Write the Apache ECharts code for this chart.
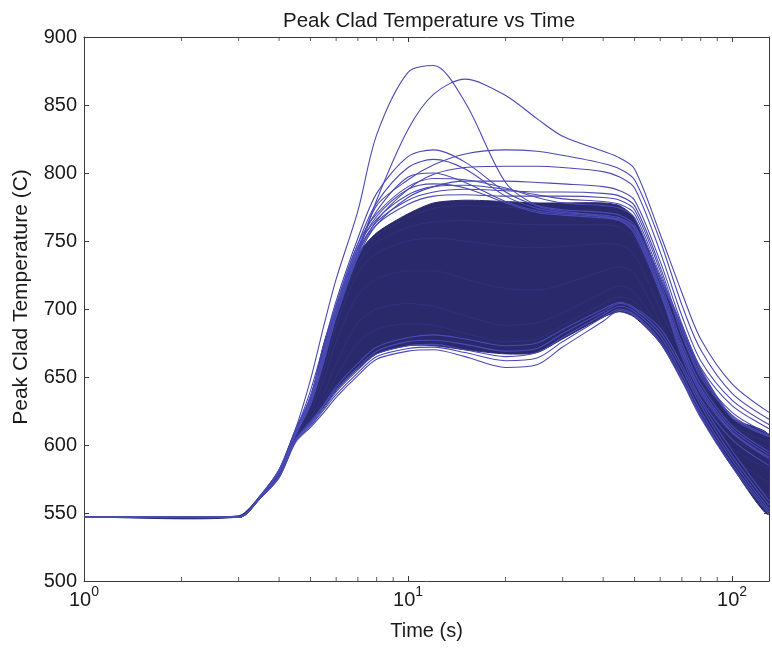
<!DOCTYPE html>
<html>
<head>
<meta charset="utf-8">
<script src="https://cdn.jsdelivr.net/npm/echarts@6/dist/echarts.min.js"></script>
<style>html,body{margin:0;padding:0;background:#fff}#c{width:772px;height:649px}</style>
</head>
<body>
<div id="c"></div>
<script>
// time grid (s)
const times = [1, 3, 3.5, 4, 4.5, 5, 5.5, 6, 7, 8, 10, 12, 15, 20, 25, 30, 40, 45, 50, 60, 70, 80, 100, 130];
// envelope of the dense bundle of runs
const coreUpper = [547,548,563,582,612,635,675,702,740,756,770,778,780,779,778,778,778,776,767,723,687,655,620,607];
const coreLower = [547,547,561,577,604,616,628,640,656,667,673,673,670,667,668,678,694,698,694,675,648,621,584,549];
// individual runs
const runA  = [547,547,563,582,612,648,688,722,772,828,874,879,852,793,776,772,768,765,755,712,665,634,604,585];
const runB  = [547,547,562,581,610,634,668,700,740,780,832,858,869,857,840,827,816,811,803,755,712,678,645,624];
const runC  = [547,547,562,580,609,632,665,698,742,776,795,806,814,817,816,813,807,803,795,750,703,670,638,619];
const runD  = [547,547,562,580,608,630,662,695,740,765,788,799,804,805,805,804,801,797,789,742,695,662,633,615];
const runE  = [547,547,562,580,608,630,662,694,738,762,782,790,794,794,793,792,790,787,780,735,689,657,629,612];
const runF1 = [547,547,562,580,610,640,674,706,752,785,812,817,808,786,776,773,771,769,762,720,675,645,614,595];
const runF2 = [547,547,562,580,609,636,670,703,748,778,804,810,803,783,774,771,769,767,760,717,672,642,612,593];
const runF3 = [547,547,562,580,609,635,668,701,745,772,797,800,793,779,772,770,768,766,759,715,670,640,610,591];
const runF4 = [547,547,562,580,608,634,666,700,744,768,788,792,789,778,771,769,767,765,757,713,668,638,609,590];
const runH1 = [547,547,562,580,608,633,665,699,742,764,780,786,788,787,786,786,785,783,776,731,684,652,624,608];
const runH2 = [547,547,562,580,608,633,665,698,741,762,777,783,784,783,783,783,782,780,773,728,681,650,622,606];
const runH3 = [547,547,562,580,608,634,667,700,745,766,784,790,791,788,784,781,779,777,770,725,688,656,621,607];
const runH4 = [547,547,562,580,609,636,670,703,748,770,790,796,795,789,782,778,776,774,767,722,686,654,620,606];
const runG1 = [547,547,561,576,602,613,624,635,651,663,669,670,665,657,659,672,691,699,695,675,647,620,584,549];
const runG2 = [547,547,561,576,603,614,626,637,653,665,671,672,668,662,664,676,694,700,696,677,649,622,586,551];
const runG3 = [547,547,561,577,603,615,627,639,655,667,673,674,670,665,668,679,696,702,698,680,652,625,589,553];
const runG4 = [547,547,561,577,604,616,629,641,657,669,676,677,674,669,671,682,698,704,700,683,656,629,592,556];
const runG5 = [547,547,561,577,604,617,630,643,660,672,679,681,678,673,675,685,700,705,701,686,659,632,596,559];
const edgeRuns = [runA, runB, runC, runD, runE, runF1, runF2, runF3, runF4, runH1, runH2, runH3, runH4, runG1, runG2, runG3, runG4, runG5];
// runs inside the dense bundle
const runI1 = [547,547,562,580,607,632,664,697,738,754,767,774,776,775,773,772,771,769,760,716,680,648,615,602];
const runI2 = [547,547,562,580,606,630,660,693,733,749,760,764,765,763,762,762,762,760,752,710,674,644,611,598];
const runI3 = [547,547,562,579,606,628,655,688,726,741,750,752,750,746,745,746,748,747,740,700,666,637,605,592];
const runI4 = [547,547,561,579,605,624,648,676,710,722,728,728,722,715,714,718,728,731,726,690,657,630,598,582];
const runI5 = [547,547,561,578,604,620,638,660,690,700,704,702,695,688,690,697,712,717,712,684,652,624,592,572];
const runI6 = [547,547,561,578,604,618,633,650,675,685,689,688,682,676,678,688,704,709,705,680,650,623,589,562];
const innerRuns = [runI1, runI2, runI3, runI4, runI5, runI6];
// axis ticks
const yTicks = [500, 550, 600, 650, 700, 750, 800, 850, 900];
const minorTimes = [2,3,4,5,6,7,8,9,20,30,40,50,60,70,80,90];

const FONT = "'Liberation Sans', Arial, Helvetica, sans-serif";
const TXT = '#1a1a1a';
const AX = '#3a3a3a';
const pairs = arr => times.map((t, i) => [t, arr[i]]);

const series = [];
series.push({
  type: 'custom', silent: true, z: 1, clip: true,
  data: times.map((t, i) => [t, coreLower[i], coreUpper[i]]),
  encode: { x: 0, y: [1, 2] },
  renderItem: (params, api) => {
    if (params.dataIndex !== 0) return null;
    const top = times.map((t, i) => api.coord([t, coreUpper[i]]));
    const bot = times.map((t, i) => api.coord([t, coreLower[i]])).reverse();
    return {
      type: 'polygon',
      shape: { points: top.concat(bot), smooth: 0.25 },
      style: { fill: '#29296b', stroke: '#29296b', lineWidth: 1 }
    };
  }
});
innerRuns.forEach(r => series.push({
  type: 'line', data: pairs(r), symbol: 'none', smooth: 0.3,
  lineStyle: { color: '#3c3c98', width: 0.8, opacity: 0.5 }, silent: true, z: 2
}));
edgeRuns.forEach(r => series.push({
  type: 'line', data: pairs(r), symbol: 'none', smooth: 0.3,
  lineStyle: { color: '#4a4ab4', width: 1.1 }, silent: true, z: 3
}));
series.push({
  type: 'scatter', data: minorTimes.map(t => [t, 500]), symbol: 'rect', symbolSize: [1, 4], symbolOffset: [0, -2],
  itemStyle: { color: AX }, clip: false, silent: true, z: 5
});
series.push({
  type: 'scatter', data: minorTimes.map(t => [t, 900]), symbol: 'rect', symbolSize: [1, 4], symbolOffset: [0, 2],
  itemStyle: { color: AX }, clip: false, silent: true, z: 5
});

const xLabel = v => {
  const e = Math.round(Math.log10(v));
  if (Math.abs(Math.pow(10, e) - v) < 1e-6) return '{b|10}{s|' + e + '}';
  return '';
};

const option = {
  animation: false,
  backgroundColor: '#fff',
  title: {
    text: 'Peak Clad Temperature vs Time', left: 278, top: 6,
    textStyle: { fontSize: 20.5, fontWeight: 'normal', color: TXT, fontFamily: FONT }
  },
  grid: { left: 84, right: 3, top: 37, bottom: 68 },
  xAxis: [{
    type: 'log', logBase: 10, min: 1, max: 130, interval: 1, position: 'bottom',
    name: 'Time (s)', nameLocation: 'middle', nameGap: 40,
    nameTextStyle: { fontSize: 20, color: TXT, fontFamily: FONT },
    axisLine: { show: true, lineStyle: { color: AX, width: 1 } },
    axisTick: { show: true, inside: true, length: 5, lineStyle: { color: AX } },
    splitLine: { show: false }, minorTick: { show: false },
    axisLabel: {
      margin: 4, formatter: xLabel, showMaxLabel: false,
      rich: {
        b: { fontSize: 20, color: TXT, fontFamily: FONT, verticalAlign: 'bottom' },
        s: { fontSize: 14, color: TXT, fontFamily: FONT, verticalAlign: 'bottom', padding: [0, 0, 11, 0] }
      }
    }
  }, {
    type: 'log', logBase: 10, min: 1, max: 130, interval: 1, position: 'top',
    axisLine: { show: true, lineStyle: { color: AX, width: 1 } },
    axisTick: { show: true, inside: true, length: 5, lineStyle: { color: AX } },
    axisLabel: { show: false }, splitLine: { show: false }
  }],
  yAxis: [{
    type: 'value', min: yTicks[0], max: yTicks[yTicks.length - 1], interval: 50, position: 'left',
    name: 'Peak Clad Temperature (C)', nameLocation: 'middle', nameGap: 52,
    nameTextStyle: { fontSize: 21, color: TXT, fontFamily: FONT, padding: [0, 0, 0, 24] },
    axisLine: { show: true, lineStyle: { color: AX, width: 1 } },
    axisTick: { show: true, inside: true, length: 5, lineStyle: { color: AX } },
    axisLabel: { fontSize: 20, color: TXT, fontFamily: FONT, margin: 7 },
    splitLine: { show: false }
  }, {
    type: 'value', min: yTicks[0], max: yTicks[yTicks.length - 1], interval: 50, position: 'right',
    axisLine: { show: true, lineStyle: { color: AX, width: 1 } },
    axisTick: { show: true, inside: true, length: 5, lineStyle: { color: AX } },
    axisLabel: { show: false }, splitLine: { show: false }
  }],
  series: series
};

const chart = echarts.init(document.getElementById('c'), null, { renderer: 'canvas' });
chart.setOption(option);
</script>
</body>
</html>
